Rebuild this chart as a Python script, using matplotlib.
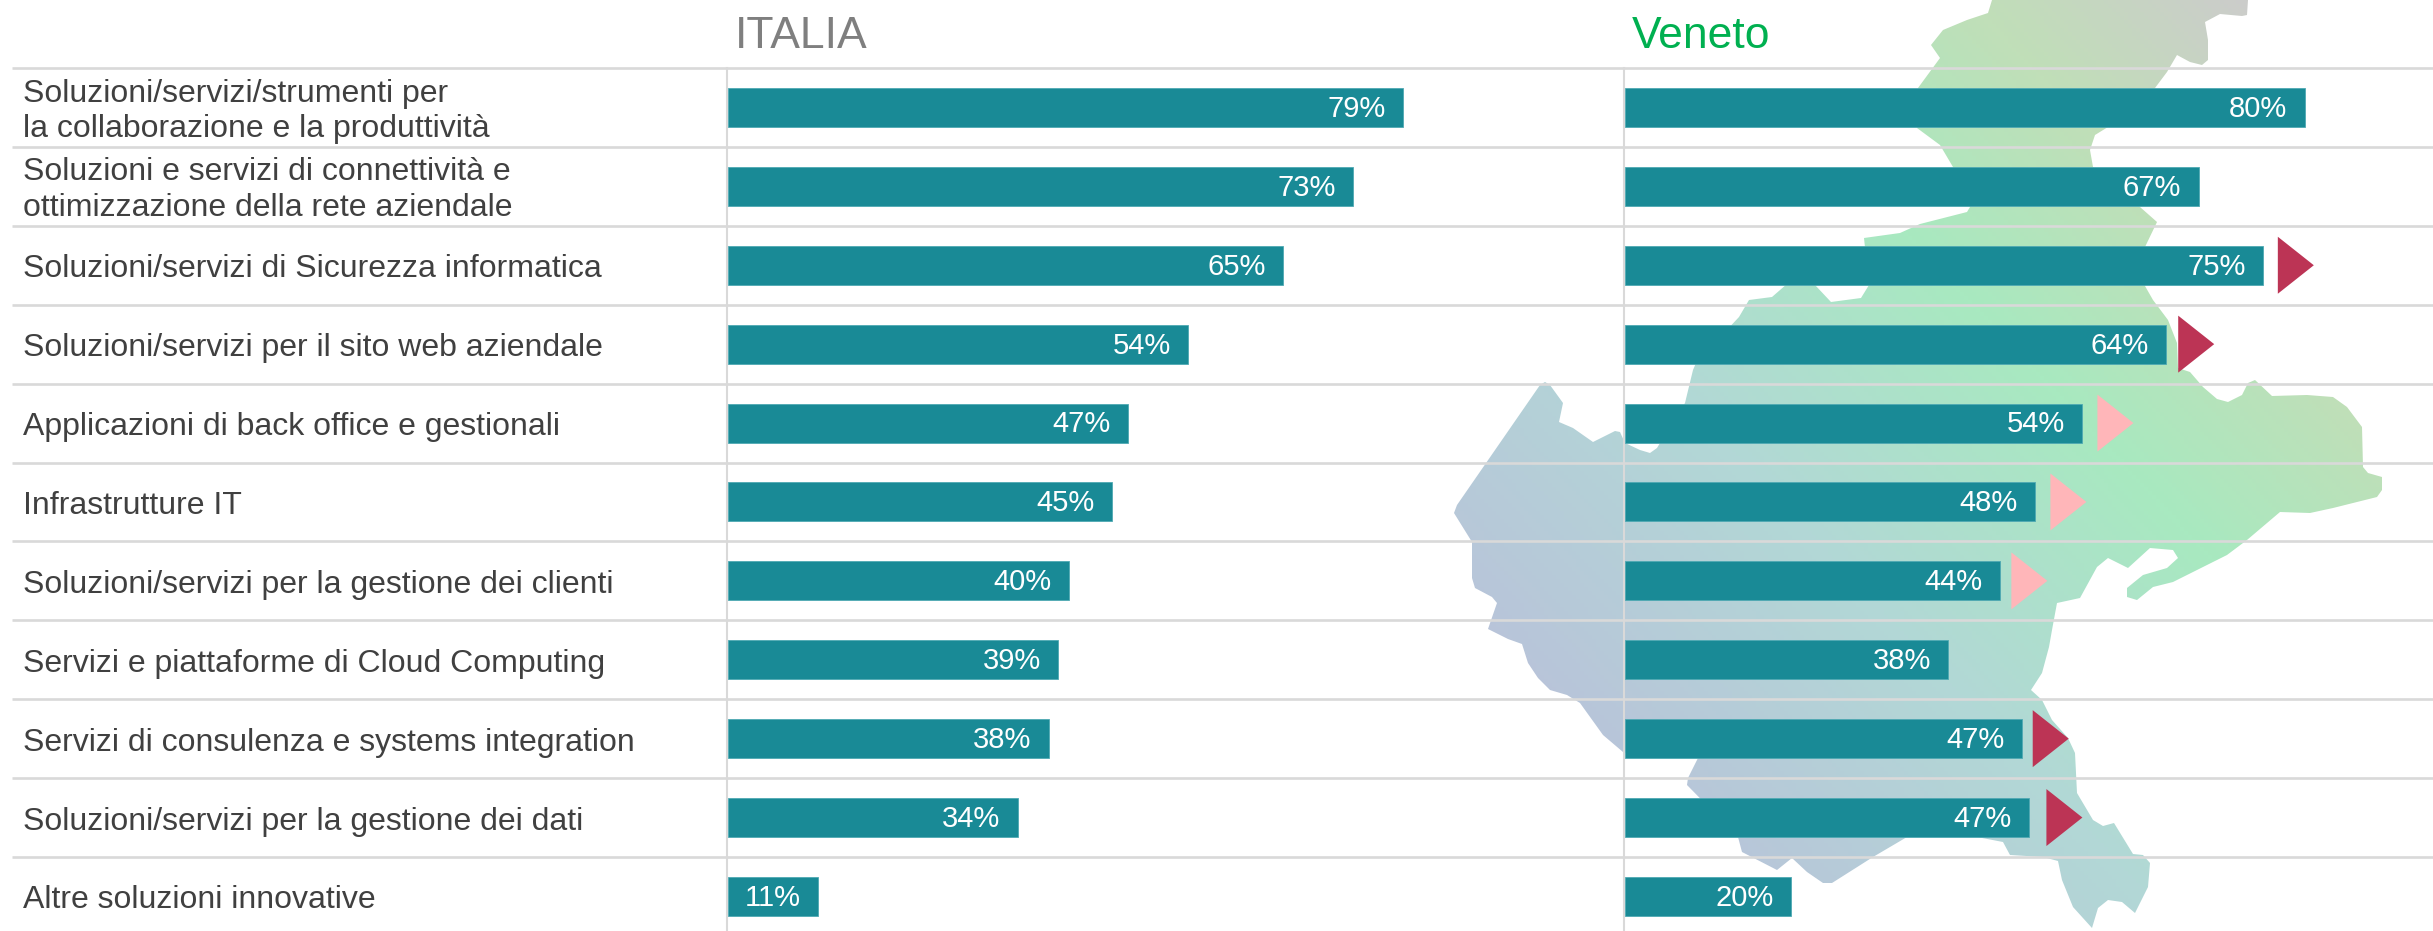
import numpy as np
import matplotlib
matplotlib.use("Agg")
import matplotlib.pyplot as plt
from matplotlib.colors import LinearSegmentedColormap
from matplotlib.patches import Polygon

W, H = 2433, 931

categorie = [
    "Soluzioni/servizi/strumenti per\nla collaborazione e la produttività",
    "Soluzioni e servizi di connettività e\nottimizzazione della rete aziendale",
    "Soluzioni/servizi di Sicurezza informatica",
    "Soluzioni/servizi per il sito web aziendale",
    "Applicazioni di back office e gestionali",
    "Infrastrutture IT",
    "Soluzioni/servizi per la gestione dei clienti",
    "Servizi e piattaforme di Cloud Computing",
    "Servizi di consulenza e systems integration",
    "Soluzioni/servizi per la gestione dei dati",
    "Altre soluzioni innovative",
]
italia = [79.0, 73.1, 64.9, 53.8, 46.8, 44.9, 39.9, 38.6, 37.5, 33.9, 10.5]
italia_lab = ["79%", "73%", "65%", "54%", "47%", "45%", "40%", "39%", "38%", "34%", "11%"]
veneto = [79.5, 67.1, 74.6, 63.3, 53.5, 48.0, 43.9, 37.8, 46.4, 47.3, 19.4]
veneto_lab = ["80%", "67%", "75%", "64%", "54%", "48%", "44%", "38%", "47%", "47%", "20%"]
# frecce: indice riga -> (colore, distanza dalla barra in px)
ROSSO, ROSA = "#bc3455", "#ffb6b9"
frecce = {2: (ROSSO, 15), 3: (ROSSO, 12), 4: (ROSA, 15), 5: (ROSA, 15),
          6: (ROSA, 11), 8: (ROSSO, 11), 9: (ROSSO, 17)}

# sagoma del Veneto sullo sfondo (px immagine)
sagoma = [(1992, 0), (2248, 0), (2247, 15), (2242, 16), (2220, 14), (2205, 22), (2208, 40), (2208, 60),
          (2202, 65), (2190, 62), (2177, 55), (2167, 72), (2155, 88), (2108, 127), (2095, 135), (2090, 150),
          (2093, 167), (2140, 207), (2157, 222), (2145, 247), (2145, 286), (2153, 300), (2168, 320), (2177, 343),
          (2178, 368), (2190, 372), (2203, 387), (2217, 399), (2228, 402), (2242, 395), (2248, 383), (2255, 380),
          (2272, 396), (2307, 395), (2333, 397), (2347, 407), (2362, 427), (2363, 467), (2368, 473), (2382, 477),
          (2382, 490), (2377, 497), (2333, 508), (2310, 513), (2280, 512), (2247, 540), (2227, 555), (2173, 582),
          (2153, 587), (2137, 600), (2127, 597), (2127, 588), (2143, 575), (2167, 568), (2178, 558), (2173, 550),
          (2150, 548), (2128, 568), (2108, 558), (2097, 567), (2080, 598), (2057, 603), (2052, 630), (2049, 647),
          (2042, 673), (2031, 690), (2042, 700), (2052, 720), (2068, 738), (2075, 753), (2077, 793), (2093, 820),
          (2103, 826), (2114, 823), (2133, 854), (2143, 855), (2150, 863), (2148, 887), (2135, 913), (2122, 902),
          (2108, 900), (2098, 908), (2092, 928), (2073, 907), (2062, 880), (2058, 861), (2043, 857), (2010, 855),
          (2003, 842), (1977, 837), (1907, 837), (1873, 857), (1832, 883), (1823, 883), (1807, 872), (1792, 858),
          (1777, 870), (1742, 852), (1738, 837), (1687, 785), (1688, 778), (1698, 758), (1640, 758), (1623, 752),
          (1603, 735), (1580, 703), (1567, 695), (1550, 690), (1538, 678), (1528, 663), (1522, 644), (1508, 639),
          (1488, 629), (1497, 603), (1492, 597), (1475, 588), (1472, 578), (1472, 542), (1454, 513), (1457, 505),
          (1540, 385), (1545, 382), (1550, 385), (1563, 403), (1559, 422), (1573, 428), (1593, 442), (1615, 431),
          (1620, 432), (1625, 443), (1640, 450), (1650, 453), (1657, 448), (1660, 443), (1685, 403), (1693, 370),
          (1696, 363), (1739, 317), (1749, 300), (1772, 297), (1795, 277), (1815, 285), (1831, 302), (1861, 298),
          (1869, 285), (1864, 238), (1900, 233), (1920, 224), (1967, 212), (1970, 207), (1953, 167), (1940, 145),
          (1917, 128), (1918, 88), (1940, 58), (1931, 45), (1943, 30), (1967, 20), (1988, 13)]

TEAL = "#198a96"
GRIGIO = "#d9d9d9"
FONT = "Liberation Sans"
Y0, RIGA = 68, 78.9
PX_PCT = 8.55

fig = plt.figure(figsize=(W / 100, H / 100), dpi=100, facecolor="white")

# sfondo in coordinate pixel
bg = fig.add_axes([0, 0, 1, 1])
bg.set_xlim(0, W)
bg.set_ylim(H, 0)
bg.axis("off")
xx, yy = np.meshgrid(np.arange(1440, 2400, 4), np.arange(0, H, 4))
t = ((xx - 1500) * 750 + (yy - 700) * -700) / (750 ** 2 + 700 ** 2)
cmap = LinearSegmentedColormap.from_list("veneto", [(0, "#b9c2da"), (0.33, "#b2d8d6"), (0.6, "#a8e9c0"),
                                                    (0.8, "#c0dfb8"), (1, "#cccccb")])
img = bg.imshow(np.clip(t, 0, 1), extent=(1440, 2400, H, 0), cmap=cmap, vmin=0, vmax=1, aspect="auto", zorder=1)
poly = Polygon(sagoma, closed=True, transform=bg.transData, fc="none", ec="none")
bg.add_patch(poly)
img.set_clip_path(poly)
bg.set_xlim(0, W)
bg.set_ylim(H, 0)

for i in range(11):
    bg.plot([12, W], [Y0 + RIGA * i] * 2, color=GRIGIO, lw=1.9, zorder=2, solid_capstyle="butt")
    bg.text(23, Y0 + RIGA * (i + 0.5) + 4, categorie[i], fontsize=23, color="#404040", family=FONT,
            va="center", ha="left", linespacing=1.25, zorder=5)
for xv in (727, 1624):
    bg.plot([xv, xv], [Y0, H], color=GRIGIO, lw=1.5, zorder=2)

bg.text(735, 37, "ITALIA", fontsize=32, color="#7f7f7f", family=FONT, va="center", zorder=5)
bg.text(1632, 37, "Veneto", fontsize=32, color="#00b050", family=FONT, va="center", zorder=5)


def pannello(x0, valori, etichette):
    ax = fig.add_axes([x0 / W, 0, 90 * PX_PCT / W, (H - Y0) / H])
    ax.patch.set_alpha(0)
    ax.set_xlim(0, 90)
    ax.set_ylim((H - Y0) / RIGA - 0.5, -0.5)
    ax.axis("off")
    y = np.arange(len(valori))
    ax.barh(y, valori, height=39 / RIGA, color=TEAL, edgecolor="#4fa9b3", linewidth=0.6, zorder=3)
    for yi, v, lab in zip(y, valori, etichette):
        ax.annotate(lab, (v, yi), xytext=(-12.5, -1), textcoords="offset points", color="white",
                    fontsize=21, family=FONT, ha="right", va="center", zorder=4)
    return ax


pannello(728, italia, italia_lab)
ax_ve = pannello(1625, veneto, veneto_lab)

# frecce accanto alle barre del Veneto
for riga, (col, gap) in frecce.items():
    xs = veneto[riga] + gap / PX_PCT
    ax_ve.fill([xs, xs, xs + 36 / PX_PCT], [riga - 28.5 / RIGA, riga + 28.5 / RIGA, riga],
               color=col, lw=0, zorder=4)

fig.savefig("out.png", dpi=100)
